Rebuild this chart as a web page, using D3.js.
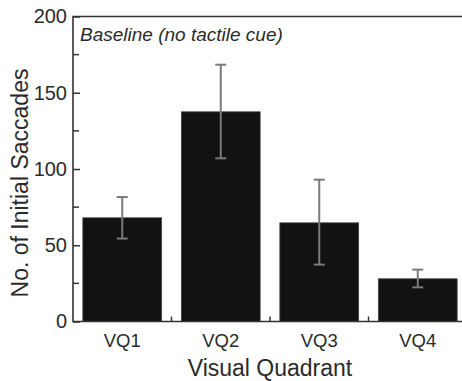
<!DOCTYPE html>
<html>
<head>
<meta charset="utf-8">
<script src="https://cdn.jsdelivr.net/npm/d3@7"></script>
<style>
  body { margin: 0; background: #fff; }
  svg { display: block; font-family: "Liberation Sans", Arial, sans-serif; }
</style>
</head>
<body>
<div class="visContainer"></div>
<script>
const w = 462;
const h = 381;

// data
const quadrants = ['VQ1', 'VQ2', 'VQ3', 'VQ4'];
const saccades = [68, 137.5, 64.7, 28];
const errLow = [54.4, 107, 37.3, 22.4];
const errHigh = [81.6, 168.4, 93, 34];
const yMajor = [0, 50, 100, 150, 200];
const yMinor = [25, 75, 125, 175];

const plotLeft = 73, plotRight = 467, plotTop = 16.5, plotBottom = 321.5;

const svg = d3
	.select('.visContainer')
	.append('svg')
	.attr('width', w)
	.attr('height', h);

const xScale = d3
	.scaleBand()
	.domain(quadrants)
	.range([plotLeft, plotRight])
	.paddingInner(0.2)
	.paddingOuter(0.1);

const yScale = d3.scaleLinear().domain([0, 200]).range([plotBottom, plotTop]);

// bars
svg.selectAll('rect.bar')
	.data(quadrants)
	.enter()
	.append('rect')
	.attr('class', 'bar')
	.attr('x', (d) => xScale(d))
	.attr('y', (d, i) => yScale(saccades[i]))
	.attr('width', xScale.bandwidth())
	.attr('height', (d, i) => plotBottom - yScale(saccades[i]))
	.style('fill', '#121212')
	.style('stroke', '#444')
	.style('stroke-width', 0.8);

// error bars
const errG = svg.append('g')
	.attr('stroke', '#7a7a7a')
	.attr('stroke-width', 2)
	.attr('fill', 'none');
quadrants.forEach((d, i) => {
	const cx = xScale(d) + xScale.bandwidth() / 2;
	errG.append('line')
		.attr('x1', cx).attr('x2', cx)
		.attr('y1', yScale(errLow[i])).attr('y2', yScale(errHigh[i]));
	[errLow[i], errHigh[i]].forEach((v) => {
		errG.append('line')
			.attr('x1', cx - 5.5).attr('x2', cx + 5.5)
			.attr('y1', yScale(v)).attr('y2', yScale(v));
	});
});

// frame
svg.append('path')
	.attr('d', `M${plotLeft},${plotBottom}V${plotTop}H${plotRight}V${plotBottom}Z`)
	.attr('fill', 'none')
	.attr('stroke', '#333')
	.attr('stroke-width', 1.6);

// y axis, ticks pointing in
const yAxis = d3.axisRight(yScale)
	.tickValues(yMajor)
	.tickSize(7);
const yAxisGroup = svg.append('g')
	.attr('transform', `translate(${plotLeft},0)`)
	.call(yAxis);
yAxisGroup.select('.domain').remove();
yAxisGroup.selectAll('line').attr('stroke', '#333').attr('stroke-width', 1.5);
yAxisGroup.selectAll('text')
	.attr('x', -6)
	.attr('text-anchor', 'end')
	.attr('fill', '#2a2a2a')
	.style('font-size', '20px');

svg.append('g')
	.selectAll('line')
	.data(yMinor)
	.enter()
	.append('line')
	.attr('x1', plotLeft).attr('x2', plotLeft + 6)
	.attr('y1', (d) => yScale(d)).attr('y2', (d) => yScale(d))
	.attr('stroke', '#333')
	.attr('stroke-width', 1.5);

// x axis labels
const xAxis = d3.axisBottom(xScale).tickSize(0).tickPadding(12);
const xAxisGroup = svg.append('g')
	.attr('transform', `translate(0,${plotBottom})`)
	.call(xAxis);
xAxisGroup.select('.domain').remove();
xAxisGroup.selectAll('text')
	.attr('fill', '#2a2a2a')
	.style('font-size', '18.5px');

// small ticks between the bars
const step = xScale.step();
svg.append('g')
	.selectAll('line')
	.data(quadrants.slice(0, -1))
	.enter()
	.append('line')
	.attr('x1', (d) => xScale(d) + xScale.bandwidth() + step * 0.1)
	.attr('x2', (d) => xScale(d) + xScale.bandwidth() + step * 0.1)
	.attr('y1', plotBottom)
	.attr('y2', plotBottom - 5)
	.attr('stroke', '#333')
	.attr('stroke-width', 1.5);

// annotation
svg.append('text')
	.attr('x', 80)
	.attr('y', 41)
	.style('font-style', 'italic')
	.style('font-size', '19px')
	.attr('fill', '#2a2a2a')
	.text('Baseline (no tactile cue)');

// axis titles
svg.append('text')
	.attr('x', (plotLeft + plotRight) / 2)
	.attr('y', 376)
	.attr('text-anchor', 'middle')
	.style('font-size', '23px')
	.attr('fill', '#2a2a2a')
	.text('Visual Quadrant');

svg.append('text')
	.attr('transform', 'rotate(-90)')
	.attr('x', -183)
	.attr('y', 28)
	.attr('text-anchor', 'middle')
	.style('font-size', '23px')
	.attr('fill', '#2a2a2a')
	.text('No. of Initial Saccades');
</script>
</body>
</html>
